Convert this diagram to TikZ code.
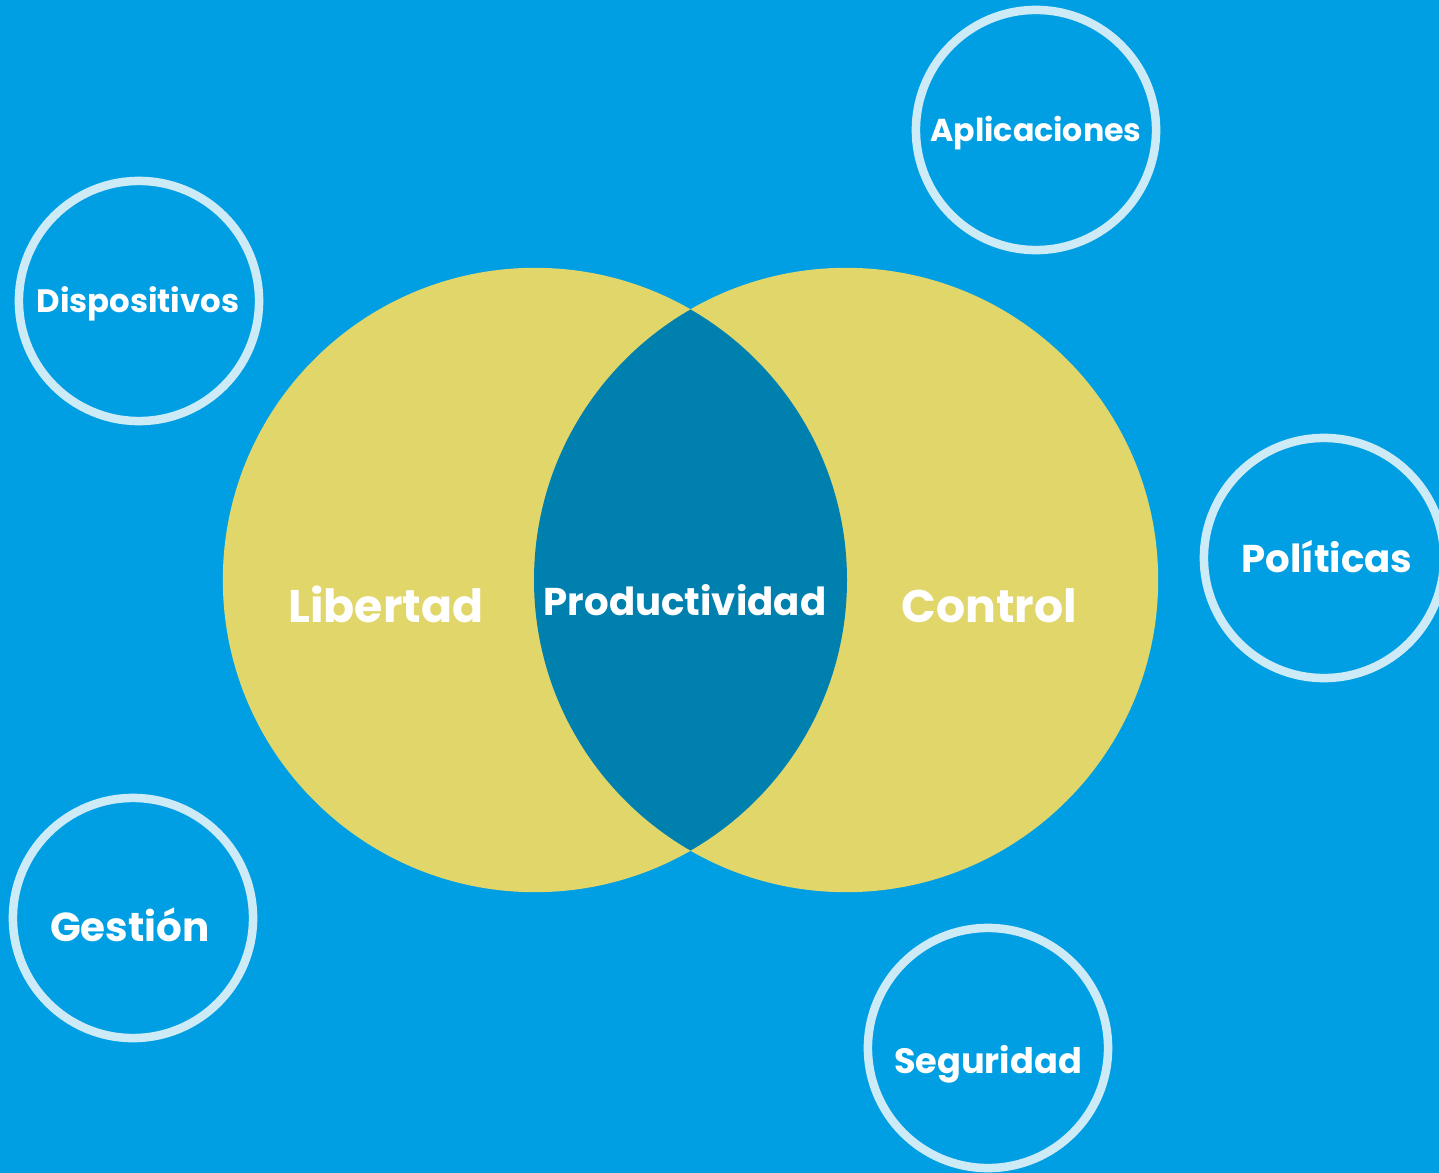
\documentclass[tikz,border=0pt]{standalone}
\usepackage{fontspec}
\setmainfont{Poppins}
\usepackage{xcolor}
\usepackage{tikz}

\definecolor{bgblue}{HTML}{009FE3}
\definecolor{venn}{HTML}{E1D66A}
\definecolor{overlap}{HTML}{0080AF}
\definecolor{ring}{HTML}{CDEAF7}

\begin{document}
\begin{tikzpicture}[x=0.01cm,y=-0.01cm,
    bubble/.style={circle,draw=ring,line width=0.085cm,inner sep=0pt,minimum size=2.4cm},
    tag/.style={anchor=base,text=white,font=\bfseries\fontsize{#1}{#1}\selectfont},
    tag/.default=13]
        \fill[bgblue] (0,0) rectangle (1439,1173);
        \useasboundingbox (0,0) rectangle (1439,1173);

        % the two sets
        \node (left) [circle,fill=venn,minimum size=6.24cm,inner sep=0pt] at (535,580) {};
        \node (right) [circle,fill=venn,minimum size=6.24cm,inner sep=0pt] at (846,580) {};
        \begin{scope}
            \clip (535,580) circle (312);
            \fill[overlap] (846,580) circle (312);
        \end{scope}

        \node (lib) [tag] at (386,622) {Libertad};
        \node (prod) [tag=11] at (685,615) {Productividad};
        \node (ctrl) [tag] at (989,622) {Control};

        % the bubbles round them
        \node (apl) [bubble] at (1036,130) {};
        \node (disp) [bubble] at (139,301) {};
        \node (pol) [bubble] at (1324,558) {};
        \node (gest) [bubble] at (133,918) {};
        \node (seg) [bubble] at (988,1048) {};

        \node (aplt) [tag=9] at (1036,142) {Aplicaciones};
        \node (dispt) [tag=9.2] at (138,313) {Dispositivos};
        \node (polt) [tag=11] at (1327,572) {Políticas};
        \node (gestt) [tag=11.5] at (130,941) {Gestión};
        \node (segt) [tag=10] at (988,1073) {Seguridad};
    \end{tikzpicture}
\end{document}
